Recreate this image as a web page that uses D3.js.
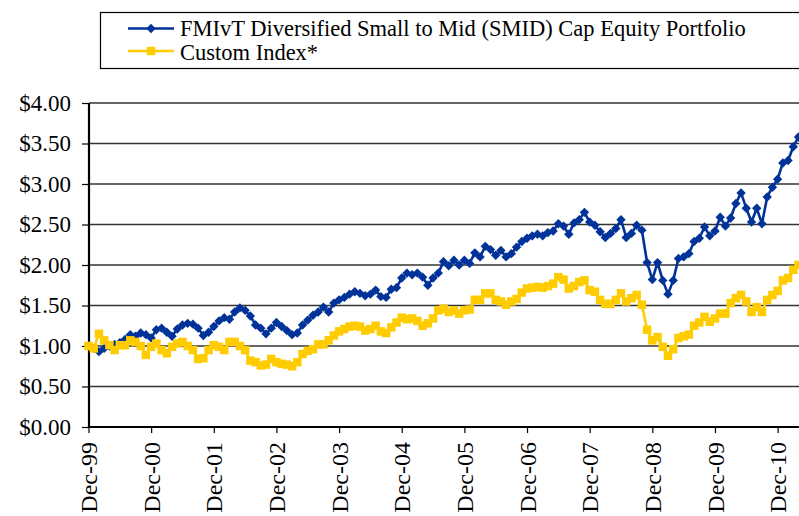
<!DOCTYPE html>
<html>
<head>
<meta charset="utf-8">
<script src="https://cdn.jsdelivr.net/npm/d3@7"></script>
<style>
  body { margin: 0; background: #fff; }
  svg { display: block; }
</style>
</head>
<body>
<svg id="chart" width="799" height="516"></svg>
<script>
// Growth of $1, month-end values from Dec-1999 to Apr-2011
const seriesNames = [
  "FMIvT Diversified Small to Mid (SMID) Cap Equity Portfolio",
  "Custom Index*"
];

const portfolio = [
  1.00, 0.97, 0.93, 0.97, 1.00, 1.02, 1.04, 1.08, 1.14, 1.12, 1.16, 1.14,
  1.10, 1.20, 1.22, 1.17, 1.12, 1.21, 1.26, 1.28, 1.27, 1.22, 1.13, 1.17,
  1.24, 1.31, 1.35, 1.33, 1.42, 1.47, 1.44, 1.37, 1.26, 1.22, 1.15, 1.22,
  1.29, 1.24, 1.19, 1.14, 1.16, 1.26, 1.32, 1.38, 1.42, 1.48, 1.42, 1.53,
  1.57, 1.60, 1.64, 1.67, 1.65, 1.62, 1.64, 1.69, 1.61, 1.60, 1.70, 1.72,
  1.84, 1.90, 1.88, 1.90, 1.85, 1.75, 1.84, 1.90, 2.04, 1.99, 2.06, 2.00,
  2.06, 2.02, 2.15, 2.10, 2.23, 2.19, 2.12, 2.18, 2.10, 2.14, 2.22, 2.29,
  2.33, 2.36, 2.38, 2.36, 2.40, 2.42, 2.51, 2.48, 2.38, 2.52, 2.56, 2.65,
  2.53, 2.49, 2.41, 2.34, 2.39, 2.45, 2.56, 2.34, 2.39, 2.49, 2.43, 2.03,
  1.82, 2.03, 1.81, 1.64, 1.81, 2.08, 2.10, 2.14, 2.29, 2.33, 2.47, 2.36,
  2.42, 2.59, 2.48, 2.58, 2.76, 2.89, 2.70, 2.53, 2.70, 2.51, 2.84, 2.96,
  3.06, 3.26, 3.29, 3.46, 3.58
];

const customIndex = [
  1.00, 0.97, 1.15, 1.07, 1.01, 0.95, 1.01, 1.01, 1.07, 1.05, 1.00, 0.89,
  0.99, 1.03, 0.95, 0.91, 0.99, 1.03, 1.05, 1.00, 0.95, 0.84, 0.85, 0.95,
  1.01, 0.99, 0.95, 1.05, 1.05, 1.00, 0.95, 0.82, 0.80, 0.76, 0.77, 0.84,
  0.80, 0.78, 0.77, 0.75, 0.80, 0.90, 0.94, 0.96, 1.02, 1.02, 1.07, 1.13,
  1.18, 1.21, 1.24, 1.25, 1.24, 1.19, 1.21, 1.25, 1.18, 1.16, 1.23, 1.29,
  1.35, 1.33, 1.34, 1.31, 1.25, 1.28, 1.34, 1.44, 1.46, 1.42, 1.44, 1.40,
  1.44, 1.45, 1.57, 1.57, 1.65, 1.65, 1.57, 1.55, 1.51, 1.55, 1.58, 1.66,
  1.71, 1.72, 1.73, 1.72, 1.74, 1.77, 1.85, 1.82, 1.71, 1.74, 1.79, 1.81,
  1.69, 1.67, 1.57, 1.52, 1.52, 1.57, 1.65, 1.55, 1.59, 1.63, 1.51, 1.20,
  1.07, 1.11, 0.99, 0.88, 0.96, 1.10, 1.12, 1.14, 1.25, 1.29, 1.36, 1.30,
  1.34, 1.40, 1.40, 1.53, 1.59, 1.63, 1.55, 1.42, 1.48, 1.42, 1.57, 1.63,
  1.68, 1.81, 1.84, 1.94, 2.00
];

const yTickValues = [0, 0.5, 1.0, 1.5, 2.0, 2.5, 3.0, 3.5, 4.0];
const xTickLabels = ["Dec-99", "Dec-00", "Dec-01", "Dec-02", "Dec-03", "Dec-04",
                     "Dec-05", "Dec-06", "Dec-07", "Dec-08", "Dec-09", "Dec-10"];

const colors = ["#003399", "#FFCC00"];
const serifFont = "Liberation Serif";

const svg = d3.select("#chart");
const W = 799;
const plot = { left: 89, top: 103, bottom: 427, right: 799 };

const nMonths = portfolio.length;
const x = d3.scaleLinear().domain([0, nMonths - 1]).range([88.5, 798.5]);
const y = d3.scaleLinear().domain([0, 4]).range([plot.bottom, plot.top]);

// horizontal gridlines
svg.append("g")
  .selectAll("line")
  .data(yTickValues.filter(v => v > 0))
  .join("line")
  .attr("x1", plot.left).attr("x2", plot.right)
  .attr("y1", d => y(d)).attr("y2", d => y(d))
  .attr("stroke", "#333").attr("stroke-width", 1.4);

// y axis
const yAxis = d3.axisLeft(y)
  .tickValues(yTickValues)
  .tickFormat(d => "$" + d3.format(".2f")(d))
  .tickSize(7)
  .tickPadding(11);
const gy = svg.append("g").attr("transform", `translate(${plot.left},0)`).call(yAxis);
gy.attr("font-family", serifFont).attr("font-size", 23);
gy.select(".domain").remove();
gy.selectAll(".tick line").attr("stroke", "#000").attr("stroke-width", 1.2);
gy.selectAll(".tick text")
  .attr("font-family", serifFont).attr("font-size", 23).attr("fill", "#000");

// x axis with one tick per December
const decIdx = xTickLabels.map((_, i) => i * 12);
const xAxis = d3.axisBottom(x)
  .tickValues(decIdx)
  .tickFormat((d, i) => xTickLabels[i])
  .tickSize(6)
  .tickSizeOuter(0);
const gx = svg.append("g").attr("transform", `translate(0,${plot.bottom})`).call(xAxis);
gx.attr("font-family", serifFont).attr("font-size", 24);
gx.select(".domain").remove();
gx.selectAll(".tick line").attr("stroke", "#000").attr("stroke-width", 1.2);
gx.selectAll(".tick text")
  .attr("font-family", serifFont).attr("font-size", 24).attr("fill", "#000")
  .attr("transform", "rotate(-90)")
  .attr("text-anchor", "end")
  .attr("x", -15).attr("y", 0).attr("dy", "0.34em");

// axis lines
svg.append("line")
  .attr("x1", plot.left).attr("x2", plot.left)
  .attr("y1", plot.top).attr("y2", plot.bottom + 1)
  .attr("stroke", "#000").attr("stroke-width", 2.2);
svg.append("line")
  .attr("x1", plot.left - 1).attr("x2", plot.right)
  .attr("y1", plot.bottom).attr("y2", plot.bottom)
  .attr("stroke", "#000").attr("stroke-width", 2);

const line = d3.line().x((d, i) => x(i)).y(d => y(d));

const diamond = d3.symbol().type(d3.symbolSquare).size(44);
const square = d3.symbol().type(d3.symbolSquare).size(72);

function drawSeries(values, color, marker, rot) {
  const g = svg.append("g");
  g.append("path")
    .datum(values)
    .attr("d", line)
    .attr("fill", "none")
    .attr("stroke", color)
    .attr("stroke-width", 2.6)
    .attr("stroke-linejoin", "round");
  g.selectAll("path.m")
    .data(values)
    .join("path")
    .attr("class", "m")
    .attr("d", marker)
    .attr("transform", (d, i) => `translate(${x(i)},${y(d)}) rotate(${rot})`)
    .attr("fill", color);
}

drawSeries(portfolio, colors[0], diamond, 45);
drawSeries(customIndex, colors[1], square, 0);

// legend
const lg = svg.append("g");
lg.append("rect")
  .attr("x", 100.5).attr("y", 12.5)
  .attr("width", W).attr("height", 56)
  .attr("fill", "#fff").attr("stroke", "#000").attr("stroke-width", 1.2);

const legendRows = [
  { name: seriesNames[0], color: colors[0], marker: diamond, rot: 45, cy: 28.5, base: 35.5 },
  { name: seriesNames[1], color: colors[1], marker: square, rot: 0, cy: 51, base: 59.8 }
];
legendRows.forEach(r => {
  lg.append("line")
    .attr("x1", 128).attr("x2", 174)
    .attr("y1", r.cy).attr("y2", r.cy)
    .attr("stroke", r.color).attr("stroke-width", 2.6);
  lg.append("path")
    .attr("d", r.marker)
    .attr("transform", `translate(151,${r.cy}) rotate(${r.rot})`)
    .attr("fill", r.color);
  lg.append("text")
    .attr("x", 180).attr("y", r.base)
    .attr("font-family", serifFont)
    .attr("font-size", 22.5)
    .attr("fill", "#000")
    .text(r.name);
});
</script>
</body>
</html>
